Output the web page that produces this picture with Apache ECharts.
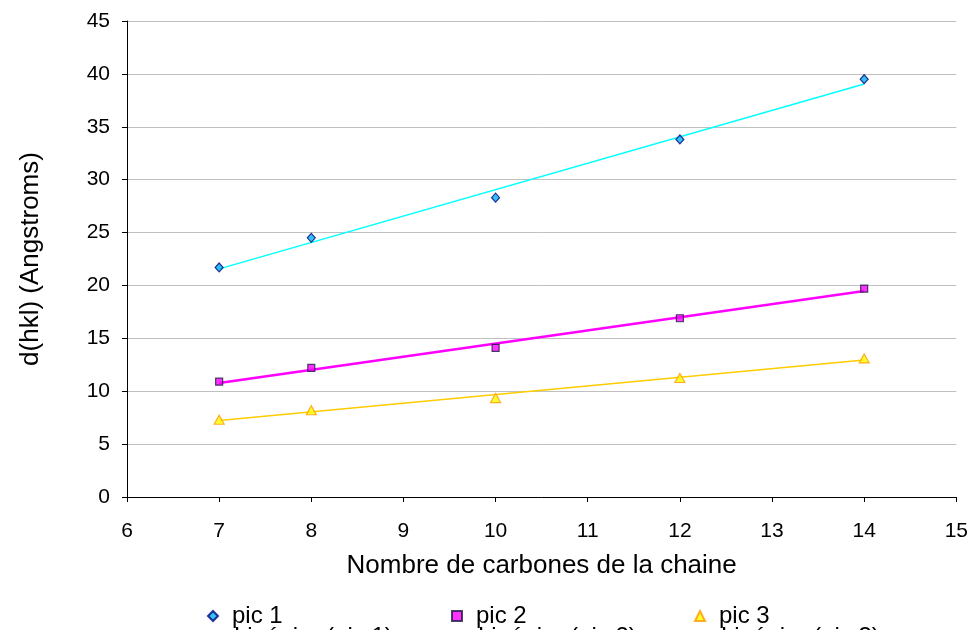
<!DOCTYPE html>
<html>
<head>
<meta charset="utf-8">
<script src="https://cdn.jsdelivr.net/npm/echarts@6/dist/echarts.min.js"></script>
<style>html,body{margin:0;padding:0;background:#fff;}#c{width:971px;height:630px;}</style>
</head>
<body>
<div id="c"></div>
<script>
var carbons = [7, 8, 10, 12, 14];
var pic1 = [21.7, 24.5, 28.3, 33.8, 39.5];
var pic2 = [10.9, 12.2, 14.1, 16.9, 19.7];
var pic3 = [7.3, 8.2, 9.35, 11.25, 13.1];
var seriesNames = ['pic 1', 'pic 2', 'pic 3'];
var trendNames = ['Linéaire (pic 1)', 'Linéaire (pic 2)', 'Linéaire (pic 3)'];

function fit(xs, ys) {
  var n = xs.length, mx = 0, my = 0;
  for (var i = 0; i < n; i++) { mx += xs[i]; my += ys[i]; }
  mx /= n; my /= n;
  var sxy = 0, sxx = 0;
  for (var j = 0; j < n; j++) { sxy += (xs[j]-mx)*(ys[j]-my); sxx += (xs[j]-mx)*(xs[j]-mx); }
  var b = sxy/sxx, a = my - b*mx;
  var x0 = Math.min.apply(null, xs), x1 = Math.max.apply(null, xs);
  return [[x0, a + b*x0], [x1, a + b*x1]];
}
function pts(ys) { return carbons.map(function (x, i) { return [x, ys[i]]; }); }

var FONT = '"Liberation Sans", Arial, sans-serif';
var chart = echarts.init(document.getElementById('c'));

var legendLefts = [202, 446, 689];
var legends = [];
var icons = ['diamond', 'rect', 'triangle'];
for (var k = 0; k < 3; k++) {
  legends.push({
    left: legendLefts[k], top: 599, itemWidth: 10, itemHeight: 10,
    data: [{name: seriesNames[k], icon: icons[k]}],
    textStyle: {fontFamily: FONT, fontSize: 24, color: '#000', padding: [0, 0, 0, 9]}
  });
  legends.push({
    left: legendLefts[k] - 5, top: 620, itemWidth: 20, itemHeight: 10,
    data: [trendNames[k]],
    textStyle: {fontFamily: FONT, fontSize: 24, color: '#000', padding: [0, 0, 0, 6]}
  });
}

chart.setOption({
  animation: false,
  backgroundColor: '#fff',
  grid: {left: 127, right: 13, top: 21, bottom: 133},
  legend: legends,
  xAxis: {
    type: 'value', min: 6, max: 15, interval: 1,
    name: 'Nombre de carbones de la chaine', nameLocation: 'middle', nameGap: 56,
    nameTextStyle: {fontFamily: FONT, fontSize: 26, color: '#000'},
    axisLine: {show: true, onZero: false, lineStyle: {color: '#000', width: 1}},
    axisTick: {show: true, length: 5, lineStyle: {color: '#000'}},
    axisLabel: {fontFamily: FONT, fontSize: 21, color: '#000', margin: 24},
    splitLine: {show: false}
  },
  yAxis: {
    type: 'value', min: 0, max: 45, interval: 5,
    name: 'd(hkl) (Angstroms)', nameLocation: 'middle', nameGap: 83,
    nameTextStyle: {fontFamily: FONT, fontSize: 26, color: '#000'},
    axisLine: {show: true, onZero: false, lineStyle: {color: '#000', width: 1}},
    axisTick: {show: true, length: 5, lineStyle: {color: '#000'}},
    axisLabel: {fontFamily: FONT, fontSize: 21, color: '#000', margin: 17},
    splitLine: {show: true, lineStyle: {color: '#c0c0c0', width: 1}}
  },
  series: [
    {name: trendNames[0], type: 'line', data: fit(carbons, pic1), symbol: 'none',
     lineStyle: {color: '#00ffff', width: 1.5}, itemStyle: {color: '#00ffff'}, z: 2},
    {name: trendNames[1], type: 'line', data: fit(carbons, pic2), symbol: 'none',
     lineStyle: {color: '#ff00ff', width: 2.5}, itemStyle: {color: '#ff00ff'}, z: 2},
    {name: trendNames[2], type: 'line', data: fit(carbons, pic3), symbol: 'none',
     lineStyle: {color: '#ffcc00', width: 1.5}, itemStyle: {color: '#ffcc00'}, z: 2},
    {name: seriesNames[0], type: 'scatter', data: pts(pic1), symbol: 'diamond', symbolSize: [8, 9],
     itemStyle: {color: '#00b0f0', borderColor: '#000080', borderWidth: 1.2}, z: 5},
    {name: seriesNames[1], type: 'scatter', data: pts(pic2), symbol: 'rect', symbolSize: 7,
     itemStyle: {color: '#ff00ff', borderColor: '#1a1a40', borderWidth: 1.2}, z: 5},
    {name: seriesNames[2], type: 'scatter', data: pts(pic3), symbol: 'triangle', symbolSize: [10, 9],
     itemStyle: {color: '#ffff00', borderColor: '#ff9900', borderWidth: 1.2}, z: 5}
  ]
});
</script>
</body>
</html>
